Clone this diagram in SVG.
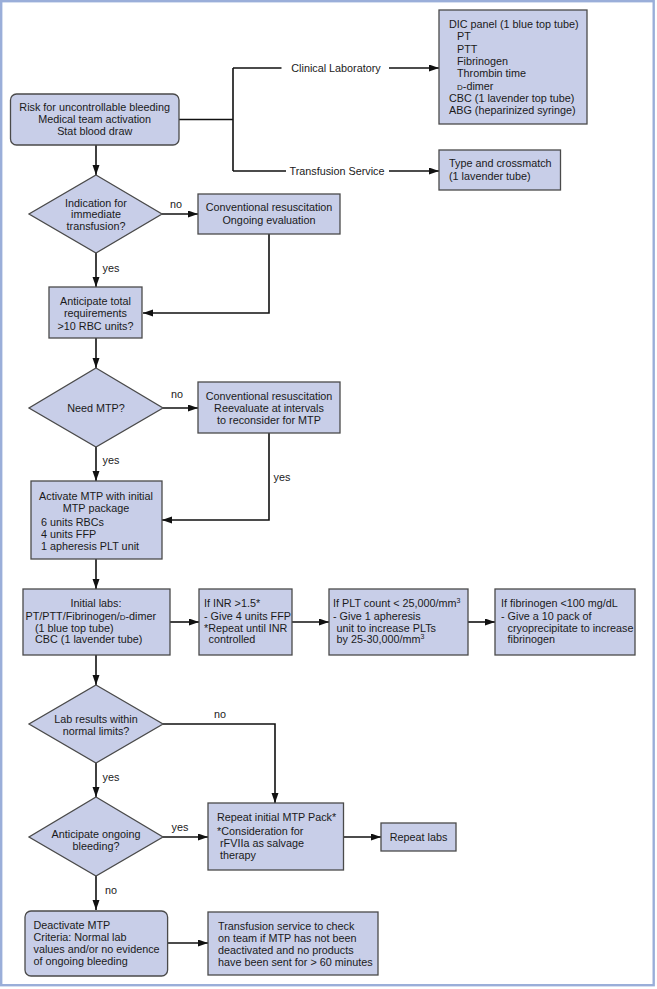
<svg xmlns="http://www.w3.org/2000/svg" width="657" height="989" viewBox="0 0 657 989">
<defs>
<marker id="ah" markerUnits="userSpaceOnUse" markerWidth="11" markerHeight="8" refX="10" refY="3.5" orient="auto">
<path d="M0,0 L10,3.5 L0,7 z" fill="#111"/>
</marker>
<style>
.box{fill:#c8cee8;stroke:#4a4a4a;stroke-width:1.3}
.t{font-family:"Liberation Sans",Arial,sans-serif;font-size:10.8px;fill:#1a1a1a}
.c{text-anchor:middle}
.ln{fill:none;stroke:#111;stroke-width:1.6}
.a{marker-end:url(#ah)}
.sc{font-size:8px}
.sup{font-size:7px}
</style>
</defs>
<rect x="1.2" y="1.2" width="652.5" height="984" fill="#fff" stroke="#9aaed9" stroke-width="2.4"/>

<g id="connectors">
<path class="ln" d="M179,119.5 H233 M233,68 V171 M233,68 H281.5 M233,171 H286"/>
<path class="ln a" d="M389,68 H439"/>
<path class="ln a" d="M389,171 H439"/>
<path class="ln a" d="M96,145 V175"/>
<path class="ln a" d="M162,214 H198"/>
<path class="ln a" d="M96,253 V287"/>
<path class="ln a" d="M269,234 V313 H143"/>
<path class="ln a" d="M96,338 V368"/>
<path class="ln a" d="M163,408 H198"/>
<path class="ln a" d="M96,447 V481"/>
<path class="ln a" d="M269,433 V520 H162"/>
<path class="ln a" d="M96,559 V589"/>
<path class="ln a" d="M170,622 H199"/>
<path class="ln a" d="M292,622 H329"/>
<path class="ln a" d="M468,622 H495"/>
<path class="ln a" d="M96,655 V685"/>
<path class="ln a" d="M163,724 H275 V803"/>
<path class="ln a" d="M96,763 V797"/>
<path class="ln a" d="M163,837 H208"/>
<path class="ln a" d="M343.5,837 H381"/>
<path class="ln a" d="M96,876 V910"/>
<path class="ln a" d="M167.6,943 H208"/>
<text class="t c" x="336" y="72">Clinical Laboratory</text>
<text class="t c" x="337" y="175">Transfusion Service</text>
<text class="t c" x="176" y="208">no</text>
<text class="t c" x="111" y="272">yes</text>
<text class="t c" x="177" y="398">no</text>
<text class="t c" x="111" y="464">yes</text>
<text class="t c" x="282" y="481">yes</text>
<text class="t c" x="220" y="718">no</text>
<text class="t c" x="111" y="781">yes</text>
<text class="t c" x="180" y="831">yes</text>
<text class="t c" x="111" y="894">no</text>
</g>

<g id="risk">
<rect class="box" x="10.5" y="94" width="168.5" height="51" rx="6"/>
<text class="t c" x="94.7" y="111">Risk for uncontrollable bleeding</text>
<text class="t c" x="94.7" y="123">Medical team activation</text>
<text class="t c" x="94.7" y="135">Stat blood draw</text>
</g>

<g id="dic">
<rect class="box" x="439" y="10" width="148" height="114"/>
<text class="t" x="449" y="28">DIC panel (1 blue top tube)</text>
<text class="t" x="457" y="40.3">PT</text>
<text class="t" x="457" y="52.6">PTT</text>
<text class="t" x="457" y="64.9">Fibrinogen</text>
<text class="t" x="457" y="77.2">Thrombin time</text>
<text class="t" x="457" y="89.5"><tspan class="sc">D</tspan>-dimer</text>
<text class="t" x="449" y="101.8">CBC (1 lavender top tube)</text>
<text class="t" x="449" y="114">ABG (heparinized syringe)</text>
</g>

<g id="type">
<rect class="box" x="439" y="150" width="121.5" height="40"/>
<text class="t" x="449" y="167">Type and crossmatch</text>
<text class="t" x="449" y="179.5">(1 lavender tube)</text>
</g>

<g id="d1">
<polygon class="box" points="96,175 162,214 96,253 29,214"/>
<text class="t c" x="96" y="207">Indication for</text>
<text class="t c" x="96" y="218">immediate</text>
<text class="t c" x="96" y="230">transfusion?</text>
</g>

<g id="conv1">
<rect class="box" x="198" y="194" width="142" height="40"/>
<text class="t c" x="269" y="211">Conventional resuscitation</text>
<text class="t c" x="269" y="224">Ongoing evaluation</text>
</g>

<g id="anticipate">
<rect class="box" x="49" y="287" width="93" height="51"/>
<text class="t c" x="95.5" y="305">Anticipate total</text>
<text class="t c" x="95.5" y="317">requirements</text>
<text class="t c" x="95.5" y="330">&gt;10 RBC units?</text>
</g>

<g id="d2">
<polygon class="box" points="96,368 163,408 96,447 29,408"/>
<text class="t c" x="96" y="412">Need MTP?</text>
</g>

<g id="conv2">
<rect class="box" x="198" y="382" width="142" height="51"/>
<text class="t c" x="269" y="400">Conventional resuscitation</text>
<text class="t c" x="269" y="412">Reevaluate at intervals</text>
<text class="t c" x="269" y="424">to reconsider for MTP</text>
</g>

<g id="activate">
<rect class="box" x="31" y="481" width="131" height="78"/>
<text class="t c" x="96" y="500">Activate MTP with initial</text>
<text class="t c" x="96" y="512">MTP package</text>
<text class="t" x="41" y="526">6 units RBCs</text>
<text class="t" x="41" y="538">4 units FFP</text>
<text class="t" x="41" y="550">1 apheresis PLT unit</text>
</g>

<g id="labs">
<rect class="box" x="23" y="589" width="147" height="66"/>
<text class="t c" x="96" y="607">Initial labs:</text>
<text class="t" x="25.5" y="619.5">PT/PTT/Fibrinogen/<tspan class="sc">D</tspan>-dimer</text>
<text class="t" x="35" y="631.5">(1 blue top tube)</text>
<text class="t" x="35" y="643">CBC (1 lavender tube)</text>
</g>

<g id="inr">
<rect class="box" x="199" y="589" width="93" height="66"/>
<text class="t" x="204" y="607">If INR &gt;1.5*</text>
<text class="t" x="204" y="619.5">- Give 4 units FFP</text>
<text class="t" x="204" y="631.5">*Repeat until INR</text>
<text class="t" x="208.5" y="643">controlled</text>
</g>

<g id="plt">
<rect class="box" x="329" y="589" width="139" height="66"/>
<text class="t" x="333" y="607">If PLT count &lt; 25,000/mm<tspan class="sup" dy="-4">3</tspan></text>
<text class="t" x="333" y="619.5">- Give 1 apheresis</text>
<text class="t" x="336.5" y="631.5">unit to increase PLTs</text>
<text class="t" x="336.5" y="643">by 25-30,000/mm<tspan class="sup" dy="-4">3</tspan></text>
</g>

<g id="fib">
<rect class="box" x="495" y="589" width="140" height="66"/>
<text class="t" x="501" y="607">If fibrinogen &lt;100 mg/dL</text>
<text class="t" x="501" y="619.5">- Give a 10 pack of</text>
<text class="t" x="507.5" y="631.5">cryoprecipitate to increase</text>
<text class="t" x="507.5" y="643">fibrinogen</text>
</g>

<g id="d3">
<polygon class="box" points="96,685 163,724 96,763 29,724"/>
<text class="t c" x="96" y="723">Lab results within</text>
<text class="t c" x="96" y="735">normal limits?</text>
</g>

<g id="d4">
<polygon class="box" points="96,797 163,837 96,876 29,837"/>
<text class="t c" x="96" y="838">Anticipate ongoing</text>
<text class="t c" x="96" y="850">bleeding?</text>
</g>

<g id="repeat">
<rect class="box" x="208" y="803" width="135.5" height="67"/>
<text class="t" x="217" y="821">Repeat initial MTP Pack*</text>
<text class="t" x="217" y="834.5">*Consideration for</text>
<text class="t" x="220" y="847">rFVIIa as salvage</text>
<text class="t" x="220" y="859">therapy</text>
</g>

<g id="repeatlabs">
<rect class="box" x="381" y="823" width="75" height="28"/>
<text class="t c" x="418.5" y="841">Repeat labs</text>
</g>

<g id="deactivate">
<rect class="box" x="25" y="911" width="142.6" height="65" rx="6"/>
<text class="t" x="33.5" y="929">Deactivate MTP</text>
<text class="t" x="33.5" y="941">Criteria: Normal lab</text>
<text class="t" x="33.5" y="953">values and/or no evidence</text>
<text class="t" x="33.5" y="965">of ongoing bleeding</text>
</g>

<g id="check">
<rect class="box" x="208" y="912" width="170" height="63"/>
<text class="t" x="218" y="930">Transfusion service to check</text>
<text class="t" x="218" y="942">on team if MTP has not been</text>
<text class="t" x="218" y="954">deactivated and no products</text>
<text class="t" x="218" y="966">have been sent for &gt; 60 minutes</text>
</g>
</svg>
